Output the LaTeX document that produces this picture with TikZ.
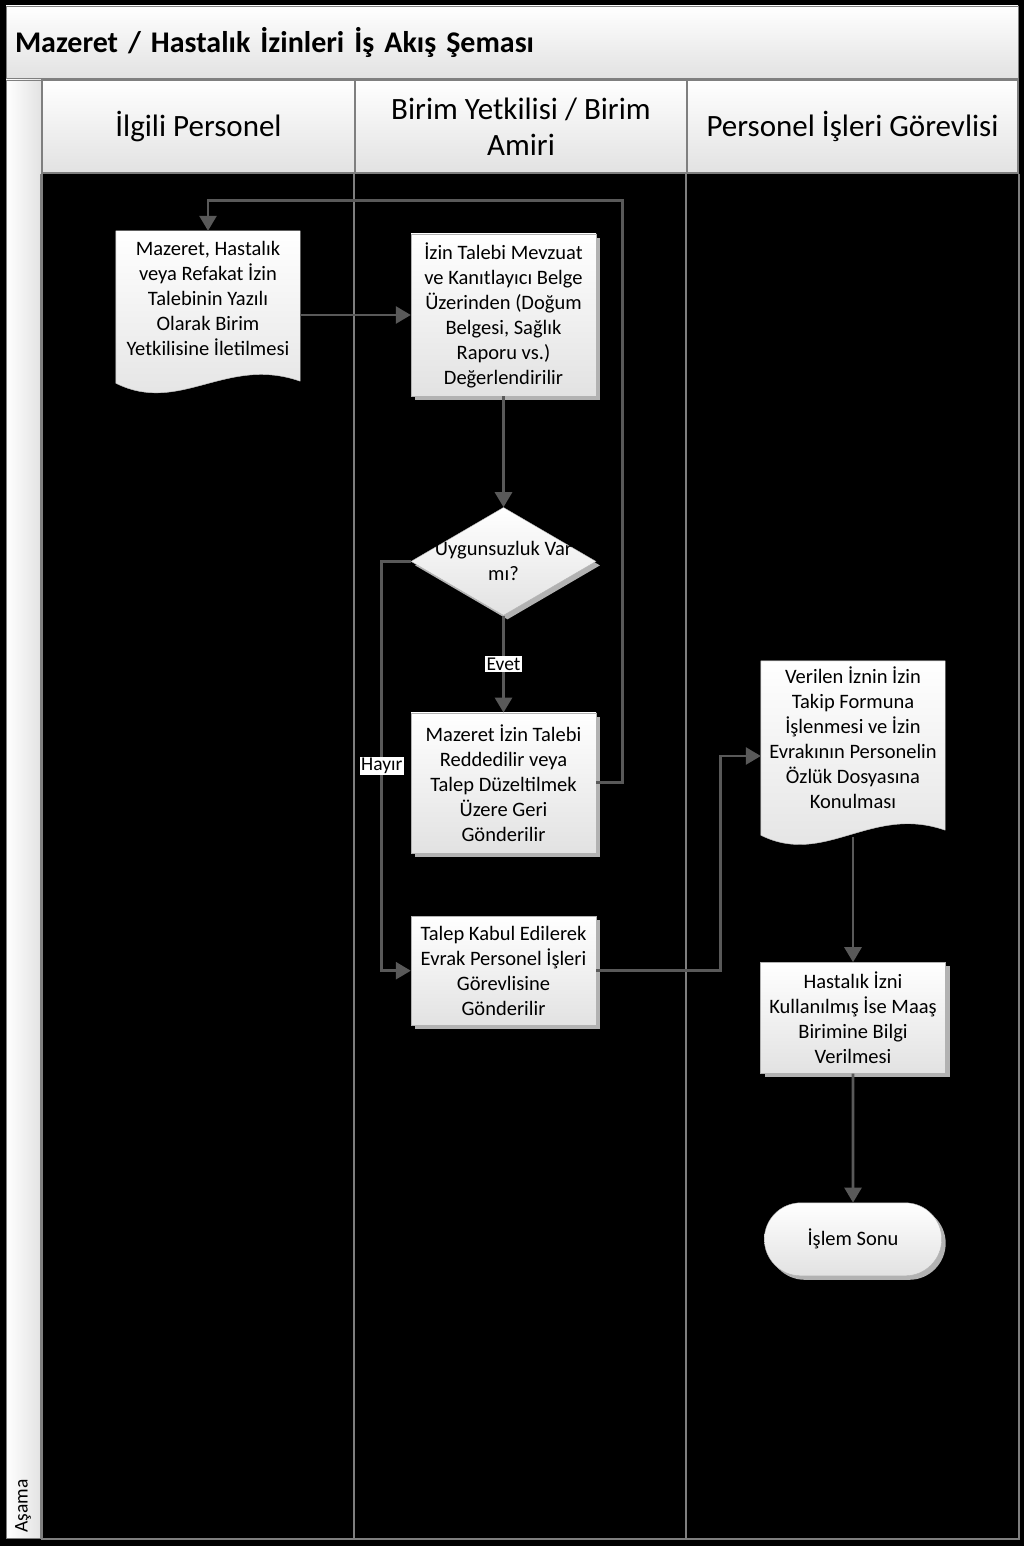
\documentclass[tikz,border=0pt]{standalone}
\usepackage{fontspec}
\setmainfont{Carlito}
\usetikzlibrary{arrows.meta,positioning,calc,shapes.geometric,shapes.misc,shadows}
\definecolor{edge}{HTML}{595959}
\definecolor{rim}{HTML}{7F7F7F}
\definecolor{pale}{HTML}{E2E2E2}
\pgfdeclarelayer{lanes}
\pgfdeclarelayer{docs}
\pgfsetlayers{lanes,docs,main}
% document symbol: node, drop at the left end, drop at the right end
\newcommand\docshape[3]{%
 \fill[gray!60,shift={(4,4)}] (#1.north west) -- (#1.north east) -- ($(#1.south east)+(0,#3)$)
 .. controls ($(#1.south east)+(-74,#3-26)$) and ($(#1.south west)+(64,#2+32)$) .. ($(#1.south west)+(0,#2)$) -- cycle;
 \shade[top color=white,bottom color=pale,draw=rim!60] (#1.north west) -- (#1.north east) -- ($(#1.south east)+(0,#3)$)
 .. controls ($(#1.south east)+(-74,#3-26)$) and ($(#1.south west)+(64,#2+32)$) .. ($(#1.south west)+(0,#2)$) -- cycle;}

\begin{document}
\begin{tikzpicture}[x=1pt,y=-1pt,node distance=20pt,
 font=\fontsize{20.5}{25}\selectfont,
 shaded/.style={top color=white,bottom color=pale,draw=rim!60},
 shadowed/.style={drop shadow={shadow xshift=4pt,shadow yshift=-4pt,fill=gray!60,opacity=1}},
 stepbox/.style={rectangle,shaded,shadowed,text width=180pt,align=flush center,minimum width=185pt,inner sep=2pt},
 docbox/.style={rectangle,text width=180pt,align=flush center,minimum width=184pt,inner sep=2pt},
 decision/.style={diamond,shaded,shadowed,minimum width=185pt,minimum height=108pt,inner sep=0pt,align=center},
 endbox/.style={rounded rectangle,shaded,shadowed,minimum width=184pt,minimum height=73pt},
 headbox/.style={rectangle,draw=rim,line width=1.2pt,top color=white,bottom color=pale,
 font=\fontsize{31}{36}\selectfont,align=center,minimum height=93pt},
 flow/.style={-{Triangle[length=15pt,width=17pt]},draw=edge,line width=2.8pt},
 lbl/.style={fill=white,inner sep=1.5pt,font=\fontsize{19.5}{22}\selectfont}]

\begin{pgfonlayer}{lanes}
\fill[black] (0,0) rectangle (1024,1546);
\node[rectangle,draw=rim,top color=white,bottom color=pale,minimum width=1012pt,minimum height=72pt,
 text width=994pt,align=left,font=\bfseries\fontsize{30}{34}\selectfont] (title) at (512,42)
 {Mazeret / Hastalık İzinleri İş Akış Şeması};
\node[rectangle,draw=rim,left color=white,right color=pale,minimum width=36pt,minimum height=1458pt] (phase) at (24,809) {};
\node[rotate=90,font=\fontsize{19.5}{22}\selectfont] (phasetxt) at (23,1506) {Aşama};
\node[headbox,minimum width=313pt] (laneA) at (198.5,126.5) {İlgili Personel};
\node[headbox,minimum width=332pt] (laneB) at (521,126.5) {Birim Yetkilisi / Birim\\Amiri};
\node[headbox,minimum width=331pt] (laneC) at (852.5,126.5) {Personel İşleri Görevlisi};
\foreach \l in {laneA,laneB,laneC}
 \draw[rim,line width=2pt] (\l.south west) -- ++(0,1365);
\draw[rim,line width=2pt] (laneC.south east) -- ++(0,1365) -- ($(laneA.south west)+(0,1365)$);
\end{pgfonlayer}

% Ilgili Personel
\node[docbox,minimum height=134pt] (doc1) at (208,298) {Mazeret, Hastalık\\veya Refakat İzin\\Talebinin Yazılı\\Olarak Birim\\Yetkilisine İletilmesi};

% Birim Yetkilisi
\node[stepbox,minimum height=162pt] (box1) at (503.5,315) {İzin Talebi Mevzuat\\ve Kanıtlayıcı Belge\\Üzerinden (Doğum\\Belgesi, Sağlık\\Raporu vs.)\\Değerlendirilir};
\node[decision,below=111pt of box1] (chk) {\makebox[0pt]{Uygunsuzluk Var}\\\makebox[0pt]{mı?}};
\node[stepbox,minimum height=140pt,below=97pt of chk] (box2) {Mazeret İzin Talebi\\Reddedilir veya\\Talep Düzeltilmek\\Üzere Geri\\Gönderilir};
\node[stepbox,minimum height=109pt,below=63pt of box2] (box3) {Talep Kabul Edilerek\\Evrak Personel İşleri\\Görevlisine\\Gönderilir};

% Personel Isleri
\node[docbox,minimum height=154pt] (doc2) at (853,738) {Verilen İznin İzin\\Takip Formuna\\İşlenmesi ve İzin\\Evrakının Personelin\\Özlük Dosyasına\\Konulması};
\node[stepbox,minimum height=111pt,below=147pt of doc2] (box4) {Hastalık İzni\\Kullanılmış İse Maaş\\Birimine Bilgi\\Verilmesi};
\node[endbox,below=129pt of box4] (term) {İşlem Sonu};

\begin{pgfonlayer}{docs}
\docshape{doc1}{18}{16}
\docshape{doc2}{20}{15}
\end{pgfonlayer}

\coordinate (doc2in) at ($(doc2.west)+(0,18)$);
\draw[flow] (doc1.east |- box1.west) -- (box1.west);
\draw[flow] (box1) -- (chk);
\draw[flow] (chk) -- node[lbl]{Evet} (box2);
\draw[flow] (chk.west) -- ++(-29,0) |- node[lbl,pos=0.25]{Hayır} (box3.west);
\draw[flow] (box2.east) -- ++(26,0) |- ($(doc1.north)+(0,-30)$) -- (doc1.north);
\draw[flow] (box3.east) -| ([xshift=-40pt]doc2in) -- (doc2in);
\draw[flow] ($(doc2.south)+(0,22)$) -- (box4);
\draw[flow] (box4) -- (term);
\end{tikzpicture}
\end{document}
